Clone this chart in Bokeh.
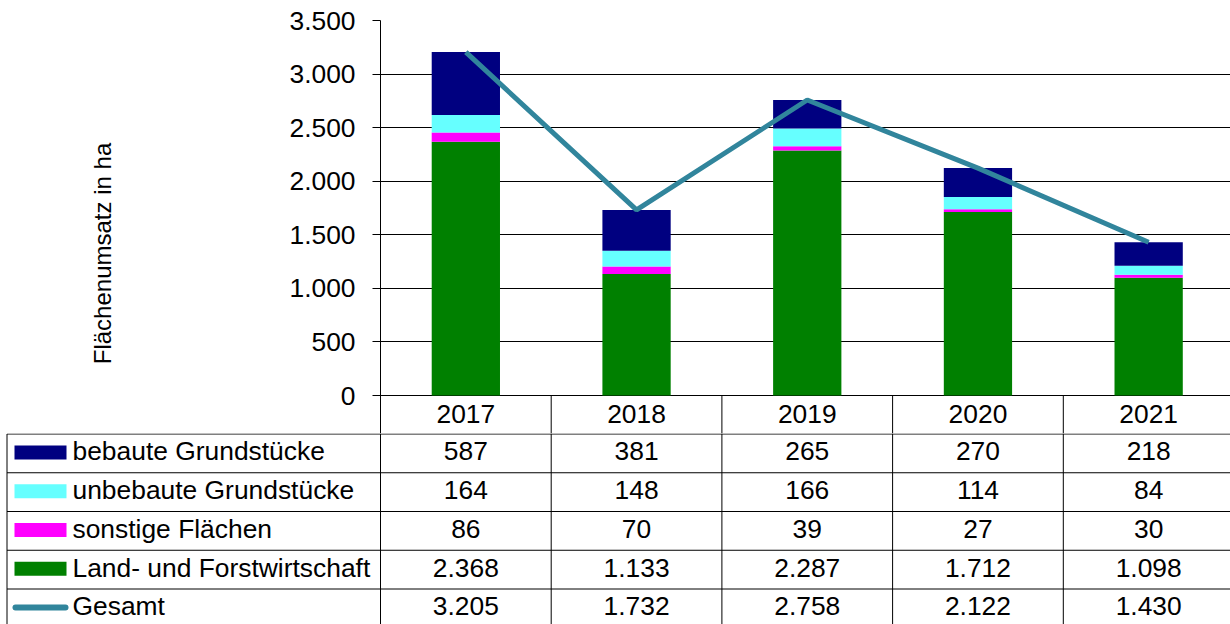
import math
from bokeh.plotting import figure
from bokeh.models import ColumnDataSource, Range1d, FixedTicker
from bokeh.layouts import column, row
from bokeh.embed import file_html
from bokeh.resources import INLINE
from bokeh.core.properties import value

# ---------------- data ----------------
years = ["2017", "2018", "2019", "2020", "2021"]
bebaute = [587, 381, 265, 270, 218]
unbebaute = [164, 148, 166, 114, 84]
sonstige = [86, 70, 39, 27, 30]
land = [2368, 1133, 2287, 1712, 1098]
gesamt = [3205, 1732, 2758, 2122, 1430]
series_names = ["bebaute Grundstücke", "unbebaute Grundstücke", "sonstige Flächen",
                "Land- und Forstwirtschaft", "Gesamt"]
y_ticks = [0, 500, 1000, 1500, 2000, 2500, 3000, 3500]
y_title = "Flächenumsatz in ha"


def de(v):
    return f"{v:,}".replace(",", ".")


C_BEB = "#000080"
C_UNB = "#66FFFF"
C_SON = "#FF00FF"
C_LAND = "#008000"
C_GES = "#31859C"
FONT = value("Liberation Sans")
FS = "26.4px"

# ---------------- layout constants (pixels) ----------------
W = 1230
H_TOP = 433          # chart + header row
H_BOT = 624 - H_TOP  # legend/value rows
LABEL_W = 200
AXIS_BORDER = 180    # so that the frame starts at x=380
FRAME_X = LABEL_W + AXIS_BORDER
FRAME_TOP = 20
PX = 170.7           # pixels per category
Y_MAX = 3500
Y_PX = 375.0         # pixels from 0 to Y_MAX
DPP = Y_MAX / Y_PX   # data units per pixel
HEADER_H = H_TOP - FRAME_TOP - Y_PX
ROW_H = 38.75
TEXT_DY = 2.0        # lift texts slightly inside their cells

x_end = -0.5 + (W - FRAME_X) / PX
x_start_full = -0.5 - FRAME_X / PX
y_start = -HEADER_H * DPP

xs = list(range(len(years)))
src = ColumnDataSource(dict(x=xs, land=land, sonstige=sonstige, unbebaute=unbebaute,
                            bebaute=bebaute, gesamt=gesamt))

common = dict(output_backend="svg", toolbar_location=None)

# ---------------- y title panel ----------------
lab = figure(width=LABEL_W, height=H_TOP, x_range=Range1d(0, LABEL_W), y_range=Range1d(H_TOP, 0),
             x_axis_location=None, y_axis_location=None, min_border=0, **common)
lab.frame_align = False
lab.outline_line_color = None
lab.grid.visible = False
lab.text(x=[102], y=[253], text=[y_title], angle=math.pi / 2, text_align="center",
         text_baseline="middle", text_font=FONT, text_font_size="24px", text_color="#000000")

# ---------------- chart ----------------
top = figure(width=W - LABEL_W, height=H_TOP, x_range=Range1d(-0.5, x_end),
             y_range=Range1d(y_start, Y_MAX), x_axis_location=None,
             min_border_left=AXIS_BORDER, min_border_right=0, min_border_top=FRAME_TOP,
             min_border_bottom=0, **common)
top.frame_align = False
top.outline_line_color = None
top.xgrid.visible = False
top.ygrid.ticker = FixedTicker(ticks=y_ticks)
top.ygrid.grid_line_color = "#000000"
top.ygrid.grid_line_width = 1

top.vbar_stack(["land", "sonstige", "unbebaute", "bebaute"], x="x", width=0.4,
               color=[C_LAND, C_SON, C_UNB, C_BEB], line_color=None, source=src)
top.line(x="x", y="gesamt", source=src, line_width=5, color=C_GES)

ya = top.yaxis[0]
ya.ticker = FixedTicker(ticks=y_ticks)
ya.major_label_overrides = {t: de(t) for t in y_ticks}
ya.major_label_text_font = "Liberation Sans"
ya.major_label_text_font_size = FS
ya.major_label_text_color = "#000000"
ya.major_label_standoff = 17
ya.major_tick_out = 8
ya.major_tick_in = 0
ya.minor_tick_line_color = None
ya.major_tick_line_color = "#000000"
ya.axis_line_color = "#000000"

# header row with years
seps_in = [i + 0.5 for i in xs[:-1]]
top.segment(x0=seps_in, y0=[0] * len(seps_in), x1=seps_in, y1=[y_start] * len(seps_in),
            line_color="#000000", line_width=1)
top.text(x=xs, y=[y_start / 2 + 1.0 * DPP] * len(xs), text=years, text_align="center",
         text_baseline="middle", text_font=FONT, text_font_size=FS, text_color="#000000")

# ---------------- table rows ----------------
bot = figure(width=W, height=H_BOT, x_range=Range1d(x_start_full, x_end),
             y_range=Range1d(-H_BOT, 0), x_axis_location=None, y_axis_location=None,
             min_border=0, **common)
bot.frame_align = False
bot.outline_line_color = None
bot.grid.visible = False

row_tops = [-0.5 - k * ROW_H for k in range(len(series_names))]
row_centers = [t - ROW_H / 2 for t in row_tops]
x_left = x_start_full + 6.5 / PX

bot.segment(x0=[x_left] * len(row_tops), y0=row_tops, x1=[x_end] * len(row_tops), y1=row_tops,
            line_color="#000000", line_width=1)
bot.segment(x0=[x_left], y0=[row_tops[0]], x1=[x_left], y1=[-H_BOT],
            line_color="#000000", line_width=1)
seps = [i - 0.5 for i in xs]
bot.segment(x0=seps, y0=[0] * len(seps), x1=seps, y1=[-H_BOT] * len(seps),
            line_color="#000000", line_width=1)

rows = [(series_names[0], bebaute, C_BEB), (series_names[1], unbebaute, C_UNB),
        (series_names[2], sonstige, C_SON), (series_names[3], land, C_LAND),
        (series_names[4], gesamt, C_GES)]

for k, (name, vals, col) in enumerate(rows):
    yc = row_centers[k]
    bot.text(x=xs, y=[yc + TEXT_DY] * len(xs), text=[de(v) for v in vals], text_align="center",
             text_baseline="middle", text_font=FONT, text_font_size=FS, text_color="#000000")
    bot.text(x=[x_start_full + 72 / PX], y=[yc + TEXT_DY], text=[name], text_align="left",
             text_baseline="middle", text_font=FONT, text_font_size=FS, text_color="#000000")
    if name == "Gesamt":
        bot.segment(x0=[x_start_full + 15 / PX], y0=[yc + 1], x1=[x_start_full + 65 / PX],
                    y1=[yc + 1], line_color=col, line_width=6, line_cap="round")
    else:
        bot.quad(left=[x_start_full + 14 / PX], right=[x_start_full + 66 / PX],
                 top=[yc + 8], bottom=[yc - 6], fill_color=col, line_color=None)

layout = column(row(lab, top, spacing=0), bot, spacing=0)
open("out.html", "w").write(file_html(layout, INLINE))
